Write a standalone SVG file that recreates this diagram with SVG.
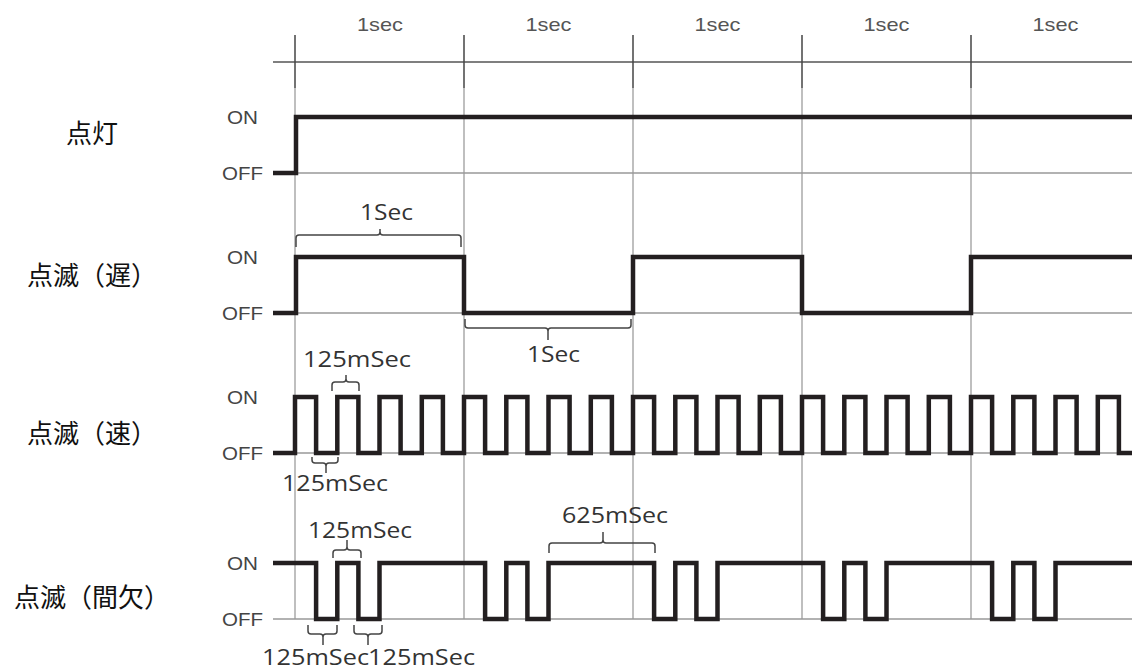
<svg xmlns="http://www.w3.org/2000/svg" width="1132" height="669" viewBox="0 0 1132 669">
<style>
.bg{fill:#ffffff}
.axis{stroke:#555;stroke-width:1.5;fill:none}
.tick{stroke:#444;stroke-width:1.5;fill:none}
.grid{stroke:#aaa;stroke-width:1.5;fill:none}
.base{stroke:#999;stroke-width:1.5;fill:none}
.sig{stroke:#231f20;stroke-width:4.5;fill:none;stroke-linejoin:miter;stroke-linecap:butt}
.br{stroke:#444;stroke-width:1.5;fill:none;stroke-linejoin:round}
.sec{font-family:"Liberation Sans",Arial,sans-serif;font-size:19px;fill:#555;text-anchor:middle}
.lv{font-family:"Liberation Sans",Arial,sans-serif;font-size:19px;fill:#444}
.dur{font-family:"Open Sans","Liberation Sans",sans-serif;font-size:22px;fill:#333}
.jp{font-family:"Noto Sans CJK JP","Noto Sans",sans-serif;font-size:26px;fill:#111;text-anchor:middle}
</style>
<rect class="bg" x="0" y="0" width="1132" height="669"/>

<g id="timeaxis">
  <line class="axis" x1="273" y1="62" x2="1132" y2="62"/>
  <g class="tick">
    <line x1="295" y1="35" x2="295" y2="88"/>
    <line x1="464" y1="35" x2="464" y2="88"/>
    <line x1="633" y1="35" x2="633" y2="88"/>
    <line x1="802" y1="35" x2="802" y2="88"/>
    <line x1="971" y1="35" x2="971" y2="88"/>
  </g>
  <g class="grid">
    <line x1="295" y1="88" x2="295" y2="619"/>
    <line x1="464" y1="88" x2="464" y2="619"/>
    <line x1="633" y1="88" x2="633" y2="619"/>
    <line x1="802" y1="88" x2="802" y2="619"/>
    <line x1="971" y1="88" x2="971" y2="619"/>
  </g>
  <text class="sec" x="380" y="31" textLength="46" lengthAdjust="spacingAndGlyphs">1sec</text>
  <text class="sec" x="548.5" y="31" textLength="46" lengthAdjust="spacingAndGlyphs">1sec</text>
  <text class="sec" x="717.5" y="31" textLength="46" lengthAdjust="spacingAndGlyphs">1sec</text>
  <text class="sec" x="886.5" y="31" textLength="46" lengthAdjust="spacingAndGlyphs">1sec</text>
  <text class="sec" x="1055.5" y="31" textLength="46" lengthAdjust="spacingAndGlyphs">1sec</text>
</g>

<g id="row-tento">
  <text class="jp" x="92" y="143">点灯</text>
  <text class="lv" x="227" y="124" textLength="31" lengthAdjust="spacingAndGlyphs">ON</text>
  <text class="lv" x="222" y="180" textLength="41" lengthAdjust="spacingAndGlyphs">OFF</text>
  <line class="base" x1="273" y1="173" x2="1132" y2="173"/>
  <path class="sig" d="M273,173 H296 V117 H1132"/>
</g>

<g id="row-slow">
  <text class="jp" x="92" y="285">点滅（遅）</text>
  <text class="lv" x="227" y="264" textLength="31" lengthAdjust="spacingAndGlyphs">ON</text>
  <text class="lv" x="222" y="320" textLength="41" lengthAdjust="spacingAndGlyphs">OFF</text>
  <line class="base" x1="273" y1="313" x2="1132" y2="313"/>
  <path class="sig" d="M273,313 H296 V257 H464 V313 H633 V257 H802 V313 H971 V257 H1132"/>
  <path class="br" d="M296,247 V238 Q296,235 299,235 H377 Q380,235 380,232 V229 M380,232 Q380,235 383,235 H458 Q461,235 461,238 V247"/>
  <text class="dur" x="360" y="220" textLength="53" lengthAdjust="spacingAndGlyphs">1Sec</text>
  <path class="br" d="M465,319 V325 Q465,328 468,328 H545 Q548,328 548,331 V340 M548,331 Q548,328 551,328 H628 Q631,328 631,325 V319"/>
  <text class="dur" x="527" y="362" textLength="53" lengthAdjust="spacingAndGlyphs">1Sec</text>
</g>

<g id="row-fast">
  <text class="jp" x="92" y="443">点滅（速）</text>
  <text class="lv" x="227" y="404" textLength="31" lengthAdjust="spacingAndGlyphs">ON</text>
  <text class="lv" x="222" y="460" textLength="41" lengthAdjust="spacingAndGlyphs">OFF</text>
  <line class="base" x1="273" y1="453" x2="1132" y2="453"/>
  <path class="sig" d="M273,453 H295 V397 H316.1 V453 H337.3 V397 H358.4 V453 H379.5 V397 H400.6 V453 H421.8 V397 H442.9 V453 H464 V397 H485.1 V453 H506.3 V397 H527.4 V453 H548.5 V397 H569.6 V453 H590.8 V397 H611.9 V453 H633 V397 H654.1 V453 H675.3 V397 H696.4 V453 H717.5 V397 H738.6 V453 H759.8 V397 H780.9 V453 H802 V397 H823.1 V453 H844.3 V397 H865.4 V453 H886.5 V397 H907.6 V453 H928.8 V397 H949.9 V453 H971 V397 H992.1 V453 H1013.3 V397 H1034.4 V453 H1055.5 V397 H1076.6 V453 H1097.8 V397 H1118.9 V453 H1132"/>
  <path class="br" d="M332,391 V385 Q332,382 335,382 H343 Q346,382 346,379 V375 M346,379 Q346,382 349,382 H356 Q359,382 359,385 V391"/>
  <text class="dur" x="303" y="367" textLength="108" lengthAdjust="spacingAndGlyphs">125mSec</text>
  <path class="br" d="M312,457 V460 Q312,463 315,463 H323 Q326,463 326,466 V473 M326,466 Q326,463 329,463 H335 Q338,463 338,460 V457"/>
  <text class="dur" x="282" y="491" textLength="106" lengthAdjust="spacingAndGlyphs">125mSec</text>
</g>

<g id="row-intermittent">
  <text class="jp" x="92" y="607">点滅（間欠）</text>
  <text class="lv" x="227" y="570" textLength="31" lengthAdjust="spacingAndGlyphs">ON</text>
  <text class="lv" x="222" y="626" textLength="41" lengthAdjust="spacingAndGlyphs">OFF</text>
  <line class="base" x1="273" y1="619" x2="1132" y2="619"/>
  <path class="sig" d="M273,563 H316.1 V619 H337.3 V563 H358.4 V619 H379.5 V563 H485.1 V619 H506.3 V563 H527.4 V619 H548.5 V563 H654.1 V619 H675.3 V563 H696.4 V619 H717.5 V563 H823.1 V619 H844.3 V563 H865.4 V619 H886.5 V563 H992.1 V619 H1013.3 V563 H1034.4 V619 H1055.5 V563 H1132"/>
  <path class="br" d="M333,558 V553 Q333,550 336,550 H344 Q347,550 347,547 V540 M347,547 Q347,550 350,550 H358 Q361,550 361,553 V558"/>
  <text class="dur" x="308" y="538" textLength="104" lengthAdjust="spacingAndGlyphs">125mSec</text>
  <path class="br" d="M308,625 V631 Q308,634 311,634 H320 Q323,634 323,637 V645 M323,637 Q323,634 326,634 H334 Q337,634 337,631 V625"/>
  <path class="br" d="M354,625 V631 Q354,634 357,634 H365 Q368,634 368,637 V645 M368,637 Q368,634 371,634 H379 Q382,634 382,631 V625"/>
  <text class="dur" x="262" y="665" textLength="107" lengthAdjust="spacingAndGlyphs">125mSec</text>
  <text class="dur" x="368" y="665" textLength="107" lengthAdjust="spacingAndGlyphs">125mSec</text>
  <path class="br" d="M549,553 V546 Q549,543 552,543 H600 Q603,543 603,540 V532 M603,540 Q603,543 606,543 H652 Q655,543 655,546 V553"/>
  <text class="dur" x="562" y="523" textLength="106" lengthAdjust="spacingAndGlyphs">625mSec</text>
</g>
</svg>
